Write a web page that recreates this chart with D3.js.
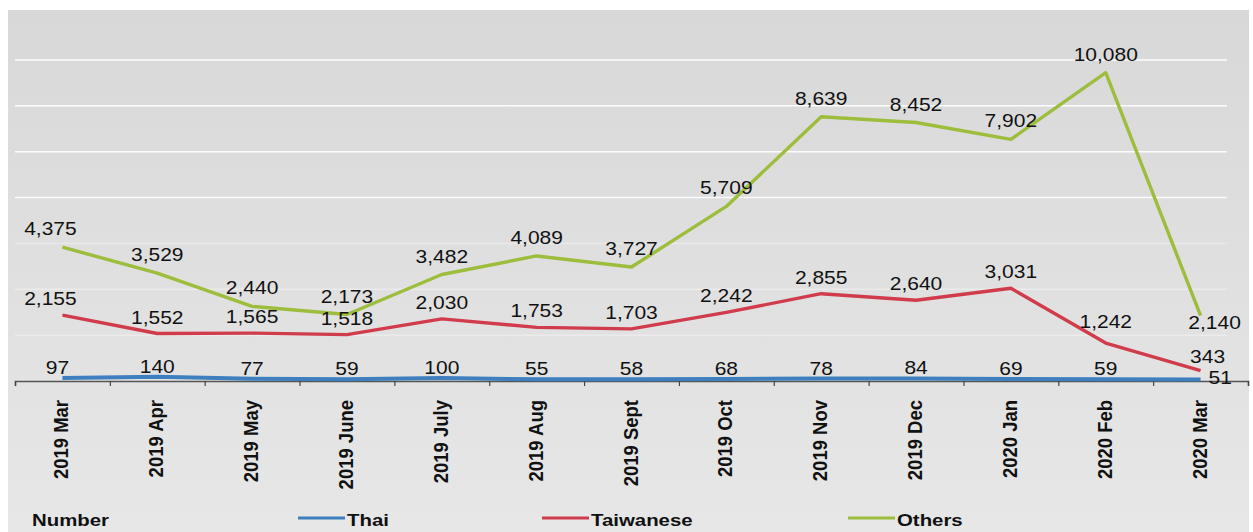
<!DOCTYPE html>
<html>
<head>
<meta charset="utf-8">
<script src="https://cdn.jsdelivr.net/npm/d3@7"></script>
<style>
  html, body { margin: 0; padding: 0; background: #ffffff; }
  svg { display: block; }
  text { font-family: Arial, "Liberation Sans", sans-serif; fill: #111; }
</style>
</head>
<body>
<svg id="chart" width="1253" height="532"></svg>
<script>
const categories = ["2019 Mar","2019 Apr","2019 May","2019 June","2019 July","2019 Aug","2019 Sept","2019 Oct","2019 Nov","2019 Dec","2020 Jan","2020 Feb","2020 Mar"];
const thai      = [97, 140, 77, 59, 100, 55, 58, 68, 78, 84, 69, 59, 51];
const taiwanese = [2155, 1552, 1565, 1518, 2030, 1753, 1703, 2242, 2855, 2640, 3031, 1242, 343];
const others    = [4375, 3529, 2440, 2173, 3482, 4089, 3727, 5709, 8639, 8452, 7902, 10080, 2140];
const gridValues = [1500, 3000, 4500, 6000, 7500, 9000, 10500];
const seriesNames = ["Thai", "Taiwanese", "Others"];
const seriesColors = ["#3f7fc0", "#d03c4c", "#9dbd3c"];
const legendTitle = "Number";

const svg = d3.select("#chart");
const W = 1253, H = 532;

// background panel
const defs = svg.append("defs");
const grad = defs.append("linearGradient").attr("id","bg").attr("x1",0).attr("y1",0).attr("x2",0).attr("y2",1);
grad.append("stop").attr("offset","0%").attr("stop-color","#d8d8d8");
grad.append("stop").attr("offset","100%").attr("stop-color","#e7e7e7");
svg.append("rect").attr("x",8).attr("y",10).attr("width",1241).attr("height",H-10).attr("fill","url(#bg)");

const x = d3.scaleBand().domain(categories).range([15, 1248]).padding(0);
const y = d3.scaleLinear().domain([0, 12000]).range([381, 14]);
const cx = d => x(d) + x.bandwidth() / 2;
const SX = 1.2;

// gridlines (lower ones are faint in the reference)
svg.append("g").selectAll("line").data(gridValues).join("line")
  .attr("x1", 15).attr("x2", 1227)
  .attr("y1", d => y(d)).attr("y2", d => y(d))
  .attr("stroke", "#ffffff").attr("stroke-width", 1.5)
  .attr("stroke-opacity", d => d >= 6000 ? 0.9 : 0.35);

// x axis line + ticks at band boundaries
const axisG = svg.append("g").attr("transform", `translate(0,${y(0)})`);
const tickScale = d3.scaleLinear().domain([0, categories.length]).range(x.range());
axisG.call(d3.axisBottom(tickScale).tickValues(d3.range(categories.length + 1)).tickSize(5).tickFormat(""))
  .call(g => g.select(".domain").attr("stroke", "#555").attr("stroke-width", 1.5))
  .call(g => g.selectAll(".tick line").attr("stroke", "#444").attr("stroke-width", 1.2));

// x labels (rotated)
svg.append("g").selectAll("text").data(categories).join("text")
  .attr("transform", d => `translate(${cx(d) + 6},400) scale(1.13,1) rotate(-90)`)
  .attr("text-anchor", "end")
  .style("font-size", "18.5px").style("font-weight", "bold")
  .text(d => d);

// lines
const series = [thai, taiwanese, others];
const line = d3.line().x((d, i) => cx(categories[i])).y(d => y(d));
[2, 1, 0].forEach(s => {
  svg.append("path").datum(series[s])
    .attr("d", line).attr("fill", "none")
    .attr("stroke", seriesColors[s]).attr("stroke-width", s === 0 ? 4 : 3.4)
    .attr("stroke-linejoin", "round");
});

// data labels
const labelOffsets = [-4, -10, -12];
function addLabel(px, py, txt, anchor) {
  svg.append("text")
    .attr("transform", `translate(${px},${py}) scale(${SX},1)`)
    .attr("text-anchor", anchor || "middle")
    .style("font-size", "17.5px")
    .text(txt);
}
const fmt = d3.format(",");
series.forEach((vals, s) => {
  vals.forEach((v, i) => {
    const px = cx(categories[i]);
    const py = y(v);
    const last = i === vals.length - 1;
    if (s === 0 && last) { addLabel(px + 8, py + 5, fmt(v), "start"); return; }
    if (s === 2 && last) { addLabel(px + 14, py + 13, fmt(v)); return; }
    if (s === 1 && last) { addLabel(px + 7, py - 8, fmt(v)); return; }
    const dx = i === 0 ? (s === 0 ? -5 : -12) : 0;
    const extra = (s === 1 && i === 11) ? -5 : 0;
    addLabel(px + dx, py + labelOffsets[s] + extra, fmt(v));
  });
});

// legend
const ly = 518;
svg.append("text").attr("transform", `translate(32,${ly + 8}) scale(${SX},1)`)
  .style("font-size", "17px").style("font-weight", "bold").text(legendTitle);
const legendX = [298, 542, 848];
seriesNames.forEach((n, i) => {
  svg.append("line").attr("x1", legendX[i]).attr("x2", legendX[i] + 47)
    .attr("y1", ly).attr("y2", ly)
    .attr("stroke", seriesColors[i]).attr("stroke-width", 3);
  svg.append("text").attr("transform", `translate(${legendX[i] + 49},${ly + 8}) scale(${SX},1)`)
    .style("font-size", "17px").style("font-weight", "bold").text(n);
});
</script>
</body>
</html>
